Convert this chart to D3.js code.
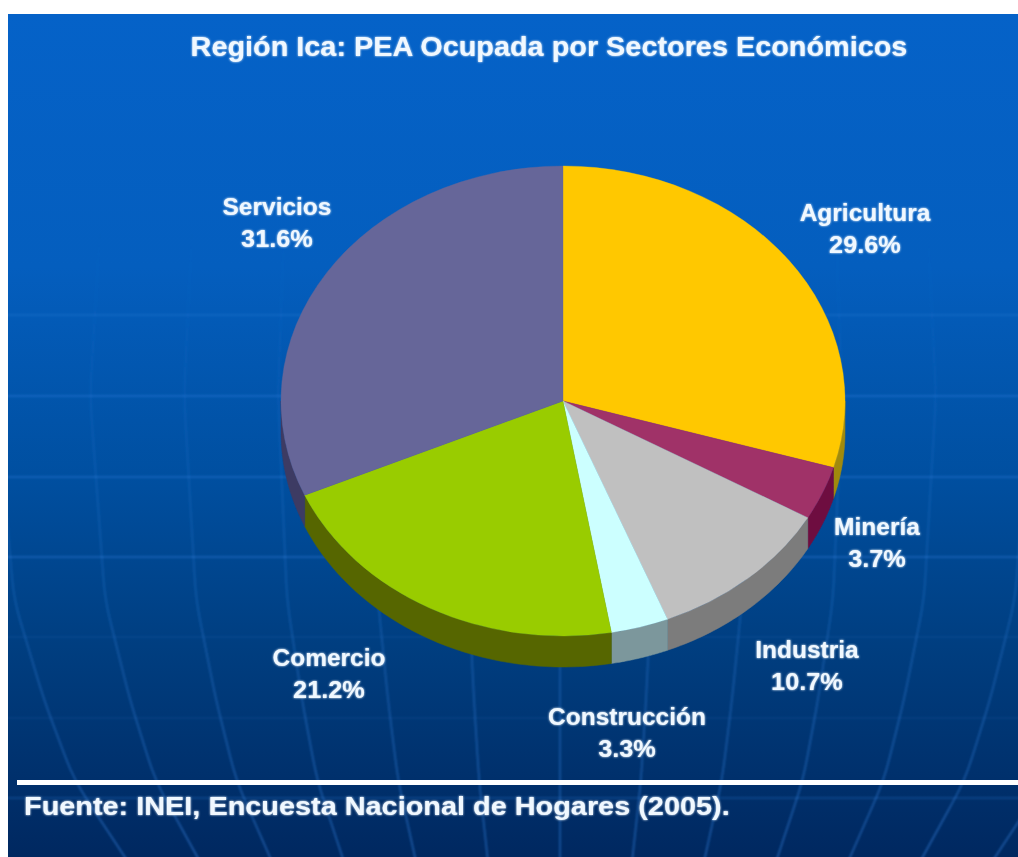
<!DOCTYPE html>
<html><head><meta charset="utf-8">
<style>html,body{margin:0;padding:0;background:#fff;overflow:hidden}svg{display:block}
text{font-family:"Liberation Sans",Arial,sans-serif;font-weight:700;fill:#f0f8ff}</style>
<script src="https://cdn.jsdelivr.net/npm/d3@7"></script></head><body>
<script>
const categories=["Agricultura","Minería","Industria","Construcción","Comercio","Servicios"];
const values=[29.6,3.7,10.7,3.3,21.2,31.6];
const topColors=["#FFC800","#A03068","#C0C0C0","#CCFFFF","#99CC00","#666699"];
const sideColors=["#A08A10","#6E0F40","#7C7C7C","#7B979C","#566600","#3C3A64"];
const labelAnchors=[[865,221],[877,535],[807,658],[627,725],[329,666],[277,215]];
const titleText="Región Ica: PEA Ocupada por Sectores Económicos";
const sourceText="Fuente: INEI, Encuesta Nacional de Hogares (2005).";

const W=1018,H=857,cx=563,cy=401,rx=282,ry=235,depth=31;
const svg=d3.select("body").append("svg").attr("width",W).attr("height",H);
const defs=svg.append("defs");
const bg=defs.append("linearGradient").attr("id","bg").attr("x1",0).attr("x2",0).attr("y1",0).attr("y2",1);
[[0,"#0562C8"],[.3,"#045EBE"],[.55,"#004FA0"],[.75,"#003E80"],[1,"#002860"]]
 .forEach(([o,c])=>bg.append("stop").attr("offset",o).attr("stop-color",c));
const mg=defs.append("linearGradient").attr("id","mer").attr("gradientUnits","userSpaceOnUse")
 .attr("x1",0).attr("x2",0).attr("y1",230).attr("y2",857);
[[0,0],[.3,.16],[.6,.3],[1,.5]].forEach(([o,a])=>mg.append("stop").attr("offset",o).attr("stop-color","#3A8AEA").attr("stop-opacity",a));
const f=defs.append("filter").attr("id","soft").attr("x","-5%").attr("y","-5%").attr("width","110%").attr("height","110%");
f.append("feGaussianBlur").attr("stdDeviation",0.6);
const g=defs.append("filter").attr("id","softbg");g.append("feGaussianBlur").attr("stdDeviation",0.8);
const glow=defs.append("filter").attr("id","glow").attr("x","-5%").attr("y","-20%").attr("width","110%").attr("height","140%");
glow.append("feGaussianBlur").attr("in","SourceGraphic").attr("stdDeviation",1.3).attr("result","halo");
glow.append("feGaussianBlur").attr("in","SourceGraphic").attr("stdDeviation",0.45).attr("result","core");
const glowMerge=glow.append("feMerge");
glowMerge.append("feMergeNode").attr("in","halo");
glowMerge.append("feMergeNode").attr("in","core");
defs.append("clipPath").attr("id","panel").append("rect").attr("x",8).attr("y",14).attr("width",W-8).attr("height",H-14);

// background
svg.append("rect").attr("x",8).attr("y",14).attr("width",W-8).attr("height",H-14).attr("fill","url(#bg)");
const grid=svg.append("g").attr("clip-path","url(#panel)").append("g").attr("filter","url(#softbg)");
[315,396,477,557,637,718,798].forEach((y,i)=>grid.append("line").attr("x1",0).attr("x2",W+10).attr("y1",y).attr("y2",y)
  .attr("stroke","#3A8AEA").attr("stroke-width",1.6).attr("stroke-opacity",[.28,.4,.4,.45,.12,.12,.3][i]));
const spread=d3.scaleLinear().domain([230,396,600,700,780,880]).range([92,94,91,86,81,70]);
const merLine=d3.line().x(d=>d[0]).y(d=>d[1]).curve(d3.curveBasis);
d3.range(-6,7).forEach(n=>{
  const pts=d3.range(230,900,20).map(y=>[560+n*spread(y),y]);
  grid.append("path").attr("d",merLine(pts)).attr("fill","none").attr("stroke","url(#mer)").attr("stroke-width",1.6);
});

// pie
const pie=d3.pie().sort(null).value(d=>d)(values);
const chart=svg.append("g").attr("filter","url(#soft)");
const ex=a=>cx+rx*Math.sin(a), ey=a=>cy-ry*Math.cos(a);
const lo=Math.PI/2, hi=3*Math.PI/2;
const line=d3.line();
pie.forEach((s,i)=>{
  const a0=Math.max(s.startAngle,lo),a1=Math.min(s.endAngle,hi);
  if(a1<=a0) return;
  const as=d3.range(0,41).map(k=>a0+(a1-a0)*k/40);
  const pts=as.map(a=>[ex(a),ey(a)]).concat(as.slice().reverse().map(a=>[ex(a),ey(a)+depth]));
  chart.append("path").attr("d",line(pts)+"Z").attr("fill",sideColors[i]).attr("stroke",sideColors[i]).attr("stroke-width",.5);
});
const arc=d3.arc().innerRadius(0).outerRadius(rx);
const topFace=chart.append("g").attr("transform",`translate(${cx},${cy}) scale(1,${ry/rx})`);
topFace.selectAll("path").data(pie).join("path").attr("d",arc).attr("fill",(d,i)=>topColors[i])
  .attr("stroke",(d,i)=>topColors[i]).attr("stroke-width",.4);

// rule
svg.append("rect").attr("x",17).attr("y",780).attr("width",W-17).attr("height",5).attr("fill","#fff").attr("filter","url(#soft)");

// texts
const txt=svg.append("g").attr("filter","url(#glow)");
function stretch(sel,k){
  const n=sel.node();
  sel.attr("textLength",n.getComputedTextLength()*k).attr("lengthAdjust","spacingAndGlyphs");
  return sel;
}
stretch(txt.append("text").attr("x",549).attr("y",56).attr("text-anchor","middle").attr("font-size",27).text(titleText),1.068);
stretch(txt.append("text").attr("x",24).attr("y",815).attr("font-size",26).text(sourceText),1.11);
const fmt=d3.format(".1f");
categories.forEach((c,i)=>{
  const [x,y]=labelAnchors[i];
  stretch(txt.append("text").attr("x",x).attr("y",y).attr("text-anchor","middle").attr("font-size",23).text(c),1.065);
  stretch(txt.append("text").attr("x",x).attr("y",y+32).attr("text-anchor","middle").attr("font-size",23).text(fmt(values[i])+"%"),1.1);
});
</script></body></html>
